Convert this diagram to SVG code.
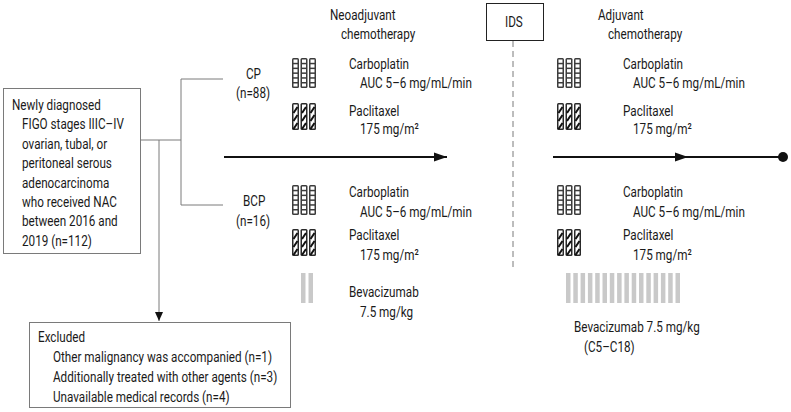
<svg xmlns="http://www.w3.org/2000/svg" width="791" height="412" viewBox="0 0 791 412">
<style>
text{font-family:Roboto,"Liberation Sans",sans-serif;font-size:15px;fill:#1a1a1a;transform-box:fill-box;transform-origin:0 50%;transform:scaleX(.78)}
.box{fill:#fff;stroke:#7a7a7a;stroke-width:1}
.thin{stroke:#7a7a7a;stroke-width:1;fill:none}
.main{stroke:#111;stroke-width:2;fill:none}
.dash{stroke:#7a7a7a;stroke-width:1;stroke-dasharray:6 4;fill:none}
.bev{fill:#c9c9c9}
</style>
<defs>
<marker id="ah" markerUnits="userSpaceOnUse" markerWidth="14" markerHeight="10" refX="13" refY="5" orient="auto"><path d="M0,0.5 L13,5 L0,9.5 z" fill="#111"/></marker>
<marker id="ahs" markerUnits="userSpaceOnUse" markerWidth="10" markerHeight="10" refX="9" refY="4" orient="auto"><path d="M0,0 L9,4 L0,8 z" fill="#111"/></marker>
<marker id="dot" markerUnits="userSpaceOnUse" markerWidth="12" markerHeight="12" refX="6" refY="6"><circle cx="6" cy="6" r="5" fill="#111"/></marker>
<g id="carbCol">
<rect x="0" y="0" width="7" height="30" rx="1.5" fill="#3c3c3c"/>
<rect x="1.5" y="1.5" width="4" height="3.3" fill="#fff"/>
<rect x="1.5" y="6.3" width="4" height="3.3" fill="#fff"/>
<rect x="1.5" y="11.1" width="4" height="3.3" fill="#fff"/>
<rect x="1.5" y="15.9" width="4" height="3.3" fill="#fff"/>
<rect x="1.5" y="20.7" width="4" height="3.3" fill="#fff"/>
<rect x="1.5" y="25.5" width="4" height="3" fill="#fff"/>
</g>
<g id="carb">
<use href="#carbCol" x="0"/><use href="#carbCol" x="8.5"/><use href="#carbCol" x="17"/>
</g>
<g id="paclCol">
<rect x="0" y="0" width="7" height="27" rx="1.5" fill="#2a2a2a"/>
<rect x="1.5" y="1.5" width="4" height="24" fill="#fff"/>
<path d="M1.5,10 L5.5,4 M1.5,18 L5.5,12 M1.5,26 L5.5,20" stroke="#111" stroke-width="2"/>
</g>
<g id="pacl">
<use href="#paclCol" x="0"/><use href="#paclCol" x="8.5"/><use href="#paclCol" x="17"/>
</g>
</defs>
<rect width="791" height="412" fill="#fff"/>

<g id="connectors">
<path class="thin" d="M140,140 H181 M181,79 V205 M181,79 H223 M181,205 H223"/>
<path class="thin" d="M159,140 V321" marker-end="url(#ahs)"/>
<path class="main" d="M224,157 H447" marker-end="url(#ah)"/>
<path class="main" d="M553,157 H688" marker-end="url(#ah)"/>
<path class="main" d="M686,157 H783" marker-end="url(#dot)"/>
<path class="dash" d="M513,41 V268"/>
</g>

<g id="cohort">
<rect class="box" x="3.5" y="88.5" width="137" height="165"/>
<text x="12" y="110">Newly diagnosed</text>
<text x="22" y="129.4">FIGO stages IIIC–IV</text>
<text x="22" y="148.8">ovarian, tubal, or</text>
<text x="22" y="168.2">peritoneal serous</text>
<text x="22" y="187.6">adenocarcinoma</text>
<text x="22" y="207">who received NAC</text>
<text x="22" y="226.4">between 2016 and</text>
<text x="22" y="245.8">2019 (n=112)</text>
</g>

<g id="excluded">
<rect class="box" x="29.5" y="322.5" width="261" height="85"/>
<text x="38" y="342">Excluded</text>
<text x="53" y="362">Other malignancy was accompanied (n=1)</text>
<text x="53" y="382">Additionally treated with other agents (n=3)</text>
<text x="53" y="402">Unavailable medical records (n=4)</text>
</g>

<g id="arm-cp">
<text x="246" y="79">CP</text>
<text x="236" y="98">(n=88)</text>
</g>
<g id="arm-bcp">
<text x="243" y="206">BCP</text>
<text x="236" y="226">(n=16)</text>
</g>

<g id="neoadjuvant-header">
<text x="330" y="20">Neoadjuvant</text>
<text x="341" y="39">chemotherapy</text>
</g>
<g id="ids">
<rect class="box" x="486.5" y="3.5" width="57" height="37" style="stroke:#222"/>
<text x="505" y="27">IDS</text>
</g>
<g id="adjuvant-header">
<text x="598" y="20">Adjuvant</text>
<text x="608" y="39">chemotherapy</text>
</g>

<g id="neo-cp">
<use href="#carb" x="292" y="58"/>
<text x="349" y="69">Carboplatin</text>
<text x="360" y="88">AUC 5–6 mg/mL/min</text>
<use href="#pacl" x="292" y="103"/>
<text x="349" y="116">Paclitaxel</text>
<text x="360" y="134">175 mg/m²</text>
</g>
<g id="neo-bcp">
<use href="#carb" x="292" y="185"/>
<text x="349" y="197">Carboplatin</text>
<text x="360" y="217">AUC 5–6 mg/mL/min</text>
<use href="#pacl" x="292" y="229"/>
<text x="349" y="240">Paclitaxel</text>
<text x="360" y="260">175 mg/m²</text>
<rect class="bev" x="301" y="273" width="4.5" height="30"/>
<rect class="bev" x="308.5" y="273" width="4.5" height="30"/>
<text x="349" y="297">Bevacizumab</text>
<text x="360" y="317">7.5 mg/kg</text>
</g>

<g id="adj-cp">
<use href="#carb" x="557" y="58"/>
<text x="623" y="69">Carboplatin</text>
<text x="633" y="88">AUC 5–6 mg/mL/min</text>
<use href="#pacl" x="557" y="103"/>
<text x="623" y="116">Paclitaxel</text>
<text x="633" y="134">175 mg/m²</text>
</g>
<g id="adj-bcp">
<use href="#carb" x="557" y="185"/>
<text x="623" y="197">Carboplatin</text>
<text x="633" y="217">AUC 5–6 mg/mL/min</text>
<use href="#pacl" x="557" y="229"/>
<text x="623" y="240">Paclitaxel</text>
<text x="633" y="260">175 mg/m²</text>
<g class="bev">
<rect x="566" y="273" width="4.5" height="30"/>
<rect x="573.3" y="273" width="4.5" height="30"/>
<rect x="580.6" y="273" width="4.5" height="30"/>
<rect x="587.9" y="273" width="4.5" height="30"/>
<rect x="595.2" y="273" width="4.5" height="30"/>
<rect x="602.5" y="273" width="4.5" height="30"/>
<rect x="609.8" y="273" width="4.5" height="30"/>
<rect x="617.1" y="273" width="4.5" height="30"/>
<rect x="624.4" y="273" width="4.5" height="30"/>
<rect x="631.7" y="273" width="4.5" height="30"/>
<rect x="639" y="273" width="4.5" height="30"/>
<rect x="646.3" y="273" width="4.5" height="30"/>
<rect x="653.6" y="273" width="4.5" height="30"/>
<rect x="660.9" y="273" width="4.5" height="30"/>
<rect x="668.2" y="273" width="4.5" height="30"/>
<rect x="675.5" y="273" width="4.5" height="30"/>
</g>
<text x="574" y="332">Bevacizumab 7.5 mg/kg</text>
<text x="584" y="352">(C5–C18)</text>
</g>
</svg>
